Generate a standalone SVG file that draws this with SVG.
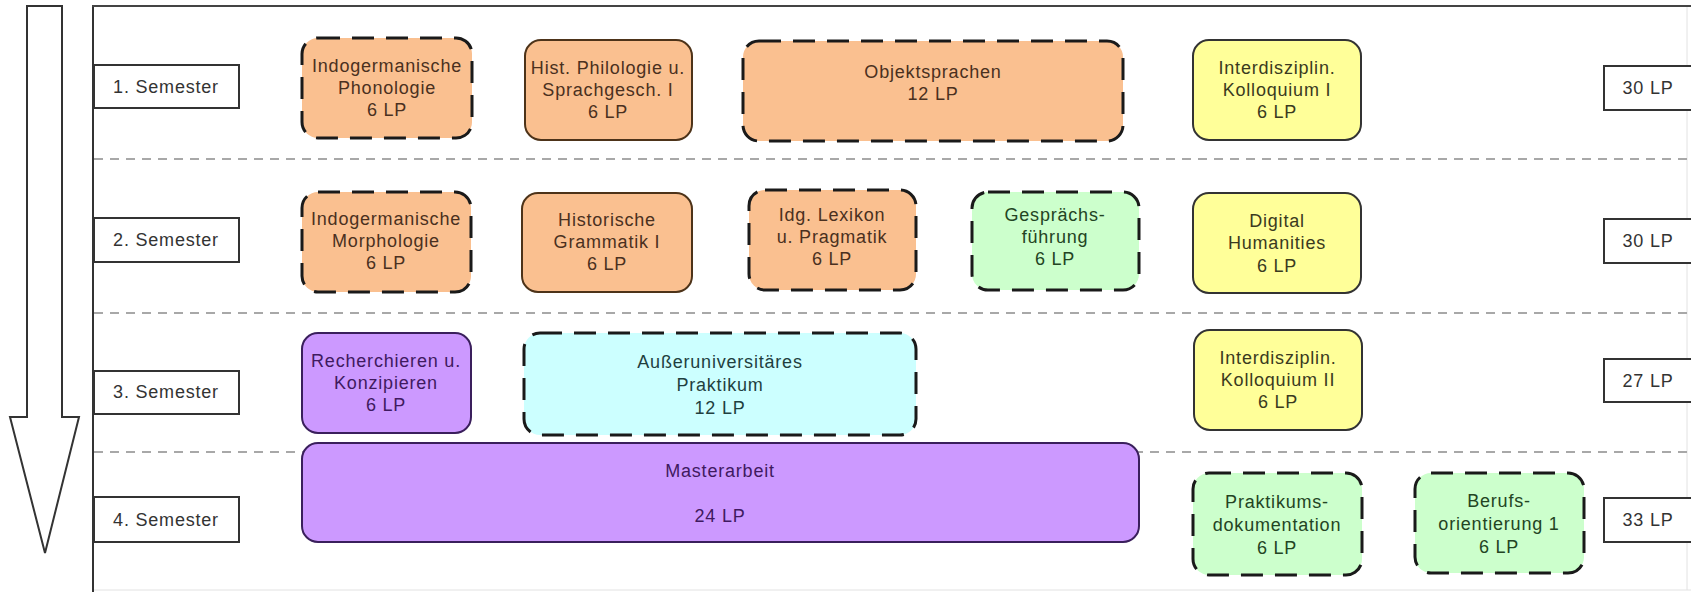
<svg xmlns="http://www.w3.org/2000/svg" width="1691" height="592" viewBox="0 0 1691 592">
<style>
text{font-family:"Liberation Sans",Arial,sans-serif;font-size:18px;letter-spacing:0.8px;text-anchor:middle;dominant-baseline:central}
.sep{stroke:#a8a8a8;stroke-width:2;stroke-dasharray:9 7;fill:none}
.lbl{fill:#fff;stroke:#333;stroke-width:2}
.lbl-t{fill:#333}
.box{stroke-width:2}
.dash{stroke:#1a1a1a;stroke-width:3;stroke-dasharray:22 12}
.or{fill:#fac090}
.or.solid{stroke:#4d3319}
.ye{fill:#ffff99;stroke:#333}
.gr{fill:#ccffcc}
.cy{fill:#ccffff}
.pu{fill:#cc99ff;stroke:#3a1f5c}
.t-or{fill:#4a3020}
.t-ye{fill:#3a3a20}
.t-gr{fill:#234423}
.t-cy{fill:#1f3f3f}
.t-pu{fill:#3f1a60}
</style>
<g id="frame">
<line x1="93" y1="6" x2="93" y2="592" stroke="#333" stroke-width="2"/>
<line x1="92" y1="6" x2="1691" y2="6" stroke="#444" stroke-width="2"/>
<line x1="1687" y1="7" x2="1687" y2="590" stroke="#e2e2e2" stroke-width="1"/>
<line x1="94" y1="590" x2="1691" y2="590" stroke="#e2e2e2" stroke-width="1"/>
</g>
<g id="time-arrow">
<polygon points="27,6 62,6 62,417 79,417 45,553 10,417 27,417" fill="#fff" stroke="#333" stroke-width="2" stroke-linejoin="miter"/>
</g>
<g id="connectors">
<line class="sep" x1="94" y1="159" x2="1688" y2="159"/>
<line class="sep" x1="94" y1="313" x2="1688" y2="313"/>
<line class="sep" x1="94" y1="452" x2="1688" y2="452"/>
</g>
<g id="sem1"><rect class="lbl" x="94" y="65" width="145" height="43"/><text class="lbl-t" x="166" y="87">1. Semester</text></g>
<g id="sem2"><rect class="lbl" x="94" y="218" width="145" height="44"/><text class="lbl-t" x="166" y="240">2. Semester</text></g>
<g id="sem3"><rect class="lbl" x="94" y="371" width="145" height="43"/><text class="lbl-t" x="166" y="392">3. Semester</text></g>
<g id="sem4"><rect class="lbl" x="94" y="497" width="145" height="45"/><text class="lbl-t" x="166" y="520">4. Semester</text></g>
<g id="lp1"><rect class="lbl" x="1604" y="66" width="92" height="44"/><text class="lbl-t" x="1648" y="88">30 LP</text></g>
<g id="lp2"><rect class="lbl" x="1604" y="219" width="92" height="44"/><text class="lbl-t" x="1648" y="241">30 LP</text></g>
<g id="lp3"><rect class="lbl" x="1604" y="359" width="92" height="43"/><text class="lbl-t" x="1648" y="381">27 LP</text></g>
<g id="lp4"><rect class="lbl" x="1604" y="498" width="92" height="44"/><text class="lbl-t" x="1648" y="520">33 LP</text></g>

<g id="n-phonologie"><rect class="box or dash" x="302" y="38" width="170" height="100" rx="16"/>
<text class="t-or" x="387" y="66">Indogermanische</text><text class="t-or" x="387" y="88">Phonologie</text><text class="t-or" x="387" y="110">6 LP</text></g>
<g id="n-histphil"><rect class="box or solid" x="525" y="40" width="167" height="100" rx="16"/>
<text class="t-or" x="608" y="68">Hist. Philologie u.</text><text class="t-or" x="608" y="90">Sprachgesch. I</text><text class="t-or" x="608" y="112">6 LP</text></g>
<g id="n-objekt"><rect class="box or dash" x="743" y="41" width="380" height="100" rx="16"/>
<text class="t-or" x="933" y="72">Objektsprachen</text><text class="t-or" x="933" y="94">12 LP</text></g>
<g id="n-kolloq1"><rect class="box ye" x="1193" y="40" width="168" height="100" rx="16"/>
<text class="t-ye" x="1277" y="68">Interdisziplin.</text><text class="t-ye" x="1277" y="90">Kolloquium I</text><text class="t-ye" x="1277" y="112">6 LP</text></g>

<g id="n-morphologie"><rect class="box or dash" x="302" y="192" width="169" height="100" rx="16"/>
<text class="t-or" x="386" y="219">Indogermanische</text><text class="t-or" x="386" y="241">Morphologie</text><text class="t-or" x="386" y="263">6 LP</text></g>
<g id="n-histgram"><rect class="box or solid" x="522" y="193" width="170" height="99" rx="16"/>
<text class="t-or" x="607" y="220">Historische</text><text class="t-or" x="607" y="242">Grammatik I</text><text class="t-or" x="607" y="264">6 LP</text></g>
<g id="n-lexikon"><rect class="box or dash" x="749" y="190" width="167" height="100" rx="16"/>
<text class="t-or" x="832" y="215">Idg. Lexikon</text><text class="t-or" x="832" y="237">u. Pragmatik</text><text class="t-or" x="832" y="259">6 LP</text></g>
<g id="n-gespraech"><rect class="box gr dash" x="972" y="192" width="167" height="98" rx="16"/>
<text class="t-gr" x="1055" y="215">Gesprächs-</text><text class="t-gr" x="1055" y="237">führung</text><text class="t-gr" x="1055" y="259">6 LP</text></g>
<g id="n-digital"><rect class="box ye" x="1193" y="193" width="168" height="100" rx="16"/>
<text class="t-ye" x="1277" y="221">Digital</text><text class="t-ye" x="1277" y="243">Humanities</text><text class="t-ye" x="1277" y="266">6 LP</text></g>

<g id="n-recherche"><rect class="box pu" x="302" y="333" width="169" height="100" rx="16"/>
<text class="t-pu" x="386" y="361">Recherchieren u.</text><text class="t-pu" x="386" y="383">Konzipieren</text><text class="t-pu" x="386" y="405">6 LP</text></g>
<g id="n-praktikum"><rect class="box cy dash" x="524" y="333" width="392" height="102" rx="16"/>
<text class="t-cy" x="720" y="362">Außeruniversitäres</text><text class="t-cy" x="720" y="385">Praktikum</text><text class="t-cy" x="720" y="408">12 LP</text></g>
<g id="n-kolloq2"><rect class="box ye" x="1194" y="330" width="168" height="100" rx="16"/>
<text class="t-ye" x="1278" y="358">Interdisziplin.</text><text class="t-ye" x="1278" y="380">Kolloquium II</text><text class="t-ye" x="1278" y="402">6 LP</text></g>

<g id="n-masterarbeit"><rect class="box pu" x="302" y="443" width="837" height="99" rx="16"/>
<text class="t-pu" x="720" y="471">Masterarbeit</text><text class="t-pu" x="720" y="516">24 LP</text></g>
<g id="n-praktdoku"><rect class="box gr dash" x="1193" y="473" width="169" height="102" rx="16"/>
<text class="t-gr" x="1277" y="502">Praktikums-</text><text class="t-gr" x="1277" y="525">dokumentation</text><text class="t-gr" x="1277" y="548">6 LP</text></g>
<g id="n-beruf"><rect class="box gr dash" x="1415" y="473" width="169" height="100" rx="16"/>
<text class="t-gr" x="1499" y="501">Berufs-</text><text class="t-gr" x="1499" y="524">orientierung 1</text><text class="t-gr" x="1499" y="547">6 LP</text></g>
</svg>
